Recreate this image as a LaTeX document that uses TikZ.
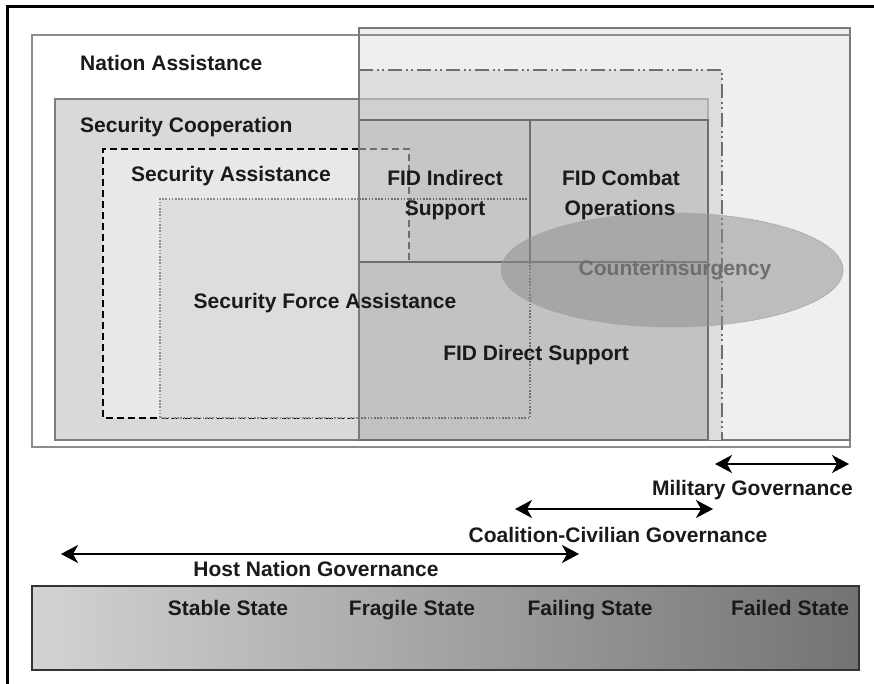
\documentclass[tikz,border=0pt]{standalone}
\usepackage{fontspec}
\setmainfont{Liberation Sans}
\usetikzlibrary{arrows.meta}
\definecolor{naFill}{HTML}{FFFFFF}
\definecolor{naLine}{HTML}{8C8C8C}
\definecolor{lightFill}{HTML}{EEEFF0}
\definecolor{lightLine}{HTML}{7A7A7A}
\definecolor{ddFill}{HTML}{DCDDDE}
\definecolor{ddLine}{HTML}{6E6E6E}
\definecolor{scFill}{HTML}{D8D9DB}
\definecolor{scFillR}{HTML}{CFD0D2}
\definecolor{scLine}{HTML}{7E7E7E}
\definecolor{saFill}{HTML}{E8E8E9}
\definecolor{sfaFill}{HTML}{DCDDDF}
\definecolor{fidFill}{HTML}{C5C6C8}
\definecolor{fidFillB}{HTML}{C1C2C4}
\definecolor{fidSA}{HTML}{CDCED0}
\definecolor{fidLine}{HTML}{6E6E6E}
\definecolor{coinFill}{HTML}{8C8C8C}
\definecolor{coinText}{HTML}{6E6E6E}
\definecolor{barL}{HTML}{D2D3D5}
\definecolor{barR}{HTML}{737375}
\definecolor{txt}{HTML}{1A1A1A}
\tikzset{
  lbl/.style={font=\fontsize{21}{30}\selectfont\bfseries, text=txt, inner sep=0pt, text height=15pt, text depth=0pt},
  govarrow/.style={line width=2.2pt, {Stealth[length=17pt,width=18pt,inset=5pt]}-{Stealth[length=17pt,width=18pt,inset=5pt]}},
  fidline/.style={draw=fidLine, line width=2pt},
  sadash/.style={line width=2pt, dash pattern=on 7pt off 4pt},
  sfadot/.style={draw=naLine, line width=1.6pt, dash pattern=on 1.6pt off 1.6pt},
}
\begin{document}
\begin{tikzpicture}[x=1pt,y=-1pt]
\useasboundingbox (0,0) rectangle (874,684);
% frame
\draw[line width=3pt] (7,684) -- (7,7) -- (874,7);
% Nation Assistance
\draw[fill=naFill, draw=naLine, line width=2pt] (32,35) rectangle (850,447);
% light overlay box
\draw[fill=lightFill, draw=lightLine, line width=2pt] (359,28) rectangle (850,440);
\draw[draw=naLine, line width=1.5pt] (359,35) -- (850,35);
% dash-dot box
\fill[ddFill] (359,70) rectangle (722,440);
\draw[ddLine, line width=1.8pt, dash pattern=on 14pt off 4pt on 2pt off 3pt on 2pt off 4pt] (359,70) -- (722,70) -- (722,440);
% Security Cooperation
\fill[scFill] (55,99) rectangle (359,440);
\fill[scFillR] (359,99) rectangle (708,440);
\draw[scLine, line width=2pt] (359,99) -- (55,99) -- (55,440) -- (359,440);
\draw[draw=naLine!70, line width=2pt] (359,99) -- (708,99) -- (708,120);
% Security Assistance
\fill[saFill] (103,149) rectangle (409,418);
\draw[sadash] (359,149) -- (103,149) -- (103,418) -- (359,418);
% Security Force Assistance
\fill[sfaFill] (160,199) rectangle (530,418);
\draw[sfadot] (359,199) -- (160,199) -- (160,418) -- (359,418);
% FID boxes
\fill[fidFill] (359,120) rectangle (708,262);
\fill[fidSA] (359,149) rectangle (409,262);
\fill[fidFillB] (359,262) rectangle (708,440);
\draw[sadash, draw=fidLine] (359,149) -- (409,149) -- (409,262);
\draw[sfadot, draw=fidLine] (359,199) -- (530,199);
\draw[sfadot, draw=fidLine] (530,262) -- (530,418) -- (359,418);
\draw[fidline] (359,120) rectangle (708,440);
\draw[fidline] (530,120) -- (530,262);
\draw[fidline] (359,262) -- (708,262);
\draw[lightLine, line width=2pt] (359,28) -- (359,440);
% Counterinsurgency
\draw[fill=coinFill, fill opacity=0.5, draw=coinFill!80, line width=0.8pt, dash pattern=on 2pt off 1pt] (672,270) ellipse [x radius=171, y radius=57];
\node[lbl, text=coinText] (coin) at (675,268) {Counterinsurgency};
% labels
\node[lbl, anchor=west] (na) at (80,63) {Nation Assistance};
\node[lbl, anchor=west] (sc) at (80,125) {Security Cooperation};
\node[lbl, anchor=west] (sa) at (131,174) {Security Assistance};
\node[lbl] (fidi1) at (445,178) {FID Indirect};
\node[lbl] (fidi2) at (445,208) {Support};
\node[lbl] (fidc1) at (621,178) {FID Combat};
\node[lbl] (fidc2) at (620,208) {Operations};
\node[lbl] (sfa) at (325,301) {Security Force Assistance};
\node[lbl] (fidd) at (536,353) {FID Direct Support};
% governance arrows
\coordinate (mgL) at (715,464);
\coordinate (mgR) at (849,464);
\coordinate (ccL) at (515,509);
\coordinate (ccR) at (713,509);
\coordinate (hnL) at (61,554);
\coordinate (hnR) at (579,554);
\draw[govarrow] (mgL) -- (mgR);
\draw[govarrow] (ccL) -- (ccR);
\draw[govarrow] (hnL) -- (hnR);
\node[lbl, anchor=east] (mg) at (853,488) {Military Governance};
\node[lbl] (cc) at (618,535) {Coalition-Civilian Governance};
\node[lbl] (hn) at (316,569) {Host Nation Governance};
% state bar
\shade[left color=barL, right color=barR] (32,586) rectangle (859,670);
\draw[line width=2pt, draw=black!80] (32,586) rectangle (859,670);
\node[lbl] (s1) at (228,608) {Stable State};
\node[lbl] (s2) at (412,608) {Fragile State};
\node[lbl] (s3) at (590,608) {Failing State};
\node[lbl] (s4) at (790,608) {Failed State};
\end{tikzpicture}
\end{document}
